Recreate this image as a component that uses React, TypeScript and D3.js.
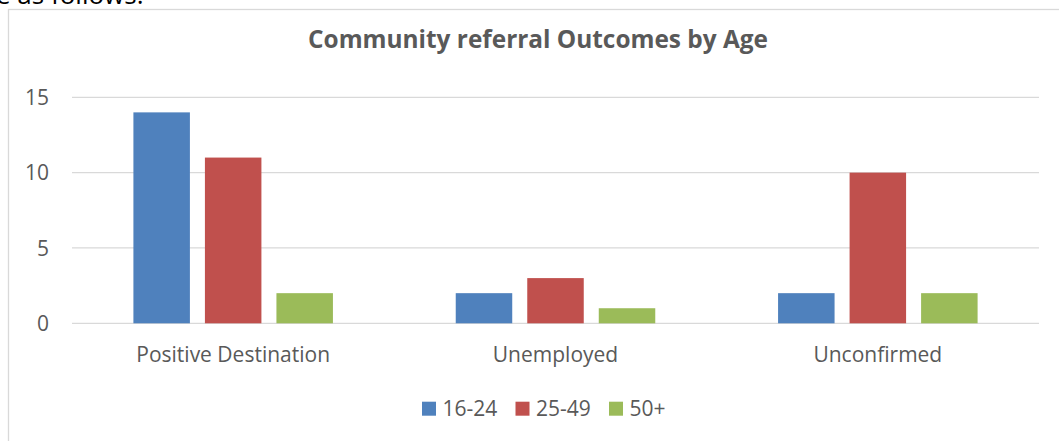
import React from "react";
import * as d3 from "d3";

const categories = ["Positive Destination", "Unemployed", "Unconfirmed"];
const seriesNames = ["16-24", "25-49", "50+"];
const values16_24 = [14, 2, 2];
const values25_49 = [11, 3, 10];
const values50plus = [2, 1, 2];
const yTicks = [0, 5, 10, 15];
const seriesColors = ["#4f81bd", "#c0504d", "#9bbb59"];
const titleText = "Community referral Outcomes by Age";
const topText = "e as follows:";

const W = 1059;
const H = 441;
const FONT = "'Open Sans', 'Noto Sans', sans-serif";
const TEXT_COLOR = "#595959";
const GRID = "#d9d9d9";

export default function App() {
  const seriesValues = [values16_24, values25_49, values50plus];
  const plotLeft = 72;
  const plotRight = 1039;
  const y = d3.scaleLinear().domain([0, 15]).range([323.3, 97.3]);
  const x0 = d3
    .scaleBand<string>()
    .domain(categories)
    .range([plotLeft, plotRight])
    .paddingInner(0.381)
    .paddingOuter(0.1905);
  const x1 = d3
    .scaleBand<string>()
    .domain(seriesNames)
    .range([0, x0.bandwidth()])
    .paddingInner(0.21);
  const legendX = d3
    .scaleLinear()
    .domain([0, 1])
    .range([422, 515.5]);

  return (
    <svg
      width={W}
      height={H}
      style={{ position: "absolute", left: 0, top: 0, background: "#fff" }}
    >
      <rect x={0} y={0} width={W} height={H} fill="#fff" />
      <text x={-4} y={3.5} fontFamily={FONT} fontSize={26} fill="#000">
        {topText}
      </text>
      <rect
        x={8.5}
        y={9.5}
        width={1200}
        height={600}
        fill="none"
        stroke={GRID}
        strokeWidth={1.3}
      />
      <text
        x={538}
        y={48}
        textAnchor="middle"
        fontFamily={FONT}
        fontWeight="bold"
        fontSize={24.4}
        fill={TEXT_COLOR}
      >
        {titleText}
      </text>
      {yTicks.map((t) => (
        <g key={t}>
          <line
            x1={plotLeft}
            x2={plotRight}
            y1={y(t)}
            y2={y(t)}
            stroke={GRID}
            strokeWidth={1.3}
          />
          <text
            x={49}
            y={y(t)}
            dy="0.36em"
            textAnchor="end"
            fontFamily={FONT}
            fontSize={21}
            fill={TEXT_COLOR}
          >
            {t}
          </text>
        </g>
      ))}
      {categories.map((c, ci) => (
        <g key={c}>
          {seriesNames.map((s, si) => {
            const v = seriesValues[si][ci];
            return (
              <rect
                key={s}
                x={(x0(c) ?? 0) + (x1(s) ?? 0)}
                y={y(v)}
                width={x1.bandwidth()}
                height={y(0) - y(v)}
                fill={seriesColors[si]}
              />
            );
          })}
          <text
            x={(x0(c) ?? 0) + x0.bandwidth() / 2}
            y={362.3}
            textAnchor="middle"
            fontFamily={FONT}
            fontSize={21}
            fill={TEXT_COLOR}
          >
            {c}
          </text>
        </g>
      ))}
      {seriesNames.map((s, si) => (
        <g key={s} transform={`translate(${legendX(si)},0)`}>
          <rect x={0} y={401.7} width={14} height={14} fill={seriesColors[si]} />
          <text
            x={20.5}
            y={415.7}
            fontFamily={FONT}
            fontSize={21}
            fill={TEXT_COLOR}
          >
            {s}
          </text>
        </g>
      ))}
    </svg>
  );
}
